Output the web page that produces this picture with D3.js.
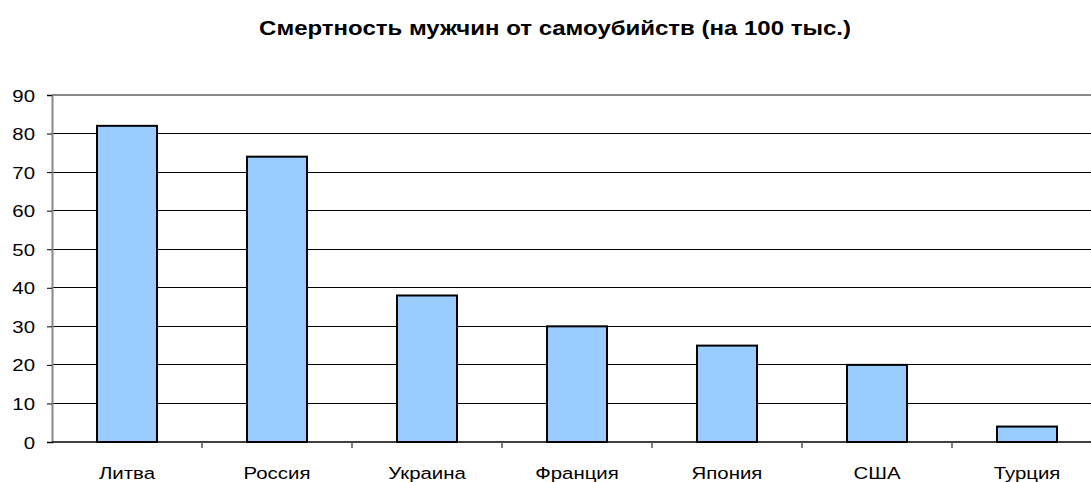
<!DOCTYPE html>
<html><head><meta charset="utf-8">
<script src="https://cdn.jsdelivr.net/npm/d3@7"></script>
<style>body{margin:0;background:#fff}svg{display:block}text{font-family:"Liberation Sans",Arial,sans-serif}</style>
</head><body>
<svg id="c" width="1091" height="482"></svg>
<script>
const categories = ["Литва","Россия","Украина","Франция","Япония","США","Турция"];
const values = [82, 74, 38, 30, 25, 20, 4];
const yTicks = [0,10,20,30,40,50,60,70,80,90];
const title = "Смертность мужчин от самоубийств (на 100 тыс.)";

const svg = d3.select("#c");
const L = 52, R = 1102, T = 95, B = 442;
const SX = 1.2;
const x = d3.scaleBand().domain(categories).range([L, R]).paddingInner(0).paddingOuter(0);
const y = d3.scaleLinear().domain([0, 90]).range([B, T]);

// gridlines
svg.append("g").selectAll("line").data(yTicks.filter(d => d > 0 && d < 90)).join("line")
  .attr("x1", L).attr("x2", 1091).attr("y1", d => y(d)).attr("y2", d => y(d))
  .attr("stroke", "#000").attr("stroke-width", 1).attr("shape-rendering","crispEdges");
svg.append("line").attr("x1", L).attr("x2", 1091).attr("y1", y(90)).attr("y2", y(90))
  .attr("stroke", "#888").attr("stroke-width", 2).attr("shape-rendering","crispEdges");

// bars
const bw = x.bandwidth() * 0.4;
svg.append("g").selectAll("rect").data(categories).join("rect")
  .attr("x", (d) => x(d) + (x.bandwidth() - bw) / 2)
  .attr("width", bw)
  .attr("y", (d, i) => y(values[i]))
  .attr("height", (d, i) => B - y(values[i]))
  .attr("fill", "#99CCFF").attr("stroke", "#000").attr("stroke-width", 2);

// y axis
const ya = svg.append("g").attr("transform", `translate(${L},0)`)
  .call(d3.axisLeft(y).tickValues(yTicks).tickSize(5).tickFormat(""));
ya.select(".domain").attr("stroke", "#888").attr("stroke-width", 2);
ya.selectAll(".tick line").attr("stroke", "#000");
svg.append("g").selectAll("text").data(yTicks).join("text")
  .attr("transform", d => `translate(35,${y(d) + 6.5}) scale(${SX},1)`)
  .attr("text-anchor", "end").attr("font-size", 17).attr("fill", "#000").text(d => d);

// x axis
svg.append("line").attr("x1", L).attr("x2", 1091).attr("y1", B).attr("y2", B)
  .attr("stroke", "#000").attr("stroke-width", 1.5);
svg.append("g").selectAll("line").data(categories.slice(1)).join("line")
  .attr("x1", d => x(d)).attr("x2", d => x(d)).attr("y1", B).attr("y2", B + 6)
  .attr("stroke", "#555").attr("stroke-width", 1.5);
svg.append("g").selectAll("text").data(categories).join("text")
  .attr("transform", d => `translate(${x(d) + x.bandwidth() / 2},479) scale(${SX},1)`)
  .attr("text-anchor", "middle").attr("font-size", 17).attr("fill", "#000").text(d => d);

svg.append("text").attr("transform", `translate(555,35) scale(${SX},1)`).attr("text-anchor", "middle")
  .attr("font-size", 20).attr("font-weight", "bold").attr("fill", "#000").text(title);
</script>
</body></html>
